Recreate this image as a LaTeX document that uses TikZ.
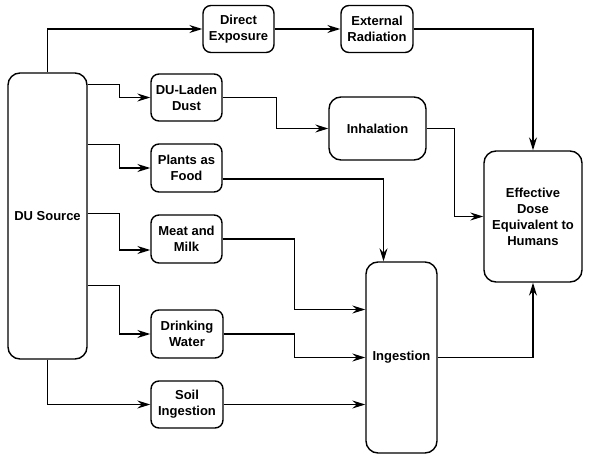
\documentclass[tikz,border=0pt]{standalone}
\usepackage{fontspec}
\setmainfont{Liberation Sans}
\usetikzlibrary{arrows.meta,positioning,calc}

\begin{document}
\begin{tikzpicture}[
    x=1pt, y=-1pt,
    box/.style={draw, line width=1.4pt, rounded corners=8pt, inner sep=0pt, minimum width=71pt, minimum height=47pt, align=center, font=\fontsize{13}{16}\selectfont\bfseries},
    bigbox/.style={box, rounded corners=12pt},
    flow/.style={->, line width=1.3pt},
    >={Stealth[length=13pt,width=8pt,inset=4.5pt]}
]
\useasboundingbox (0,0) rectangle (590,463);

% Source, pathways and receptor
\node[bigbox, minimum width=79pt, minimum height=286pt] (src) at (47.5,216) {DU Source};
\node[box] (dexp) at (238.5,29) {Direct\\Exposure};
\node[box, minimum width=72pt] (extrad) at (377,29) {External\\Radiation};
\node[box] (dust) at (186.5,97.5) {DU-Laden\\Dust};
\node[box, minimum height=48pt] (plants) at (186.5,168) {Plants as\\Food};
\node[box, minimum height=48pt] (meat) at (186.5,239) {Meat and\\Milk};
\node[box, minimum width=72pt, minimum height=48pt] (water) at (187,334) {Drinking\\Water};
\node[box, minimum width=72pt] (soil) at (187,404.5) {Soil\\Ingestion};
\node[bigbox, minimum width=97pt, minimum height=63pt] (inhal) at (377.5,128.5) {Inhalation};
\node[bigbox, minimum width=98pt, minimum height=131pt] (dose) at (533,216.5) {Effective\\Dose\\Equivalent to\\Humans};
\node[bigbox, minimum width=71pt, minimum height=191pt] (ingest) at (401.5,357.5) {Ingestion};

% External pathway
\draw[flow] (src.north) |- (dexp.west);
\draw[flow] (dexp) -- (extrad);
\draw[flow] (extrad.east) -| (dose.north);

% From the source to the media
\draw[flow] ([yshift=-12pt]src.north east) -- ++(32,0) |- (dust.west);
\draw[flow] ([yshift=-72pt]src.north east) -- ++(32,0) |- (plants.west);
\draw[flow] ([yshift=-141pt]src.north east) -- ++(32,0) |- ([yshift=-11pt]meat.west);
\draw[flow] ([yshift=-213pt]src.north east) -- ++(32,0) |- (water.west);
\draw[flow] (src.south) |- (soil.west);

% Inhalation
\draw[flow] (dust.east) -- ++(54,0) |- (inhal.west);
\draw[flow] (inhal.east) -- ++(28,0) |- (dose.west);

% Ingestion
\draw[flow] ([yshift=-11pt]plants.east) -| ([xshift=-18pt]ingest.north);
\draw[flow] (meat.east) -- ++(72,0) |- ([yshift=48pt]ingest.west);
\draw[flow] (water.east) -- ++(71,0) |- (ingest.west);
\draw[flow] (soil.east) -- (soil.east -| ingest.west);
\draw[flow] (ingest.east) -| (dose.south);

\end{tikzpicture}
\end{document}
